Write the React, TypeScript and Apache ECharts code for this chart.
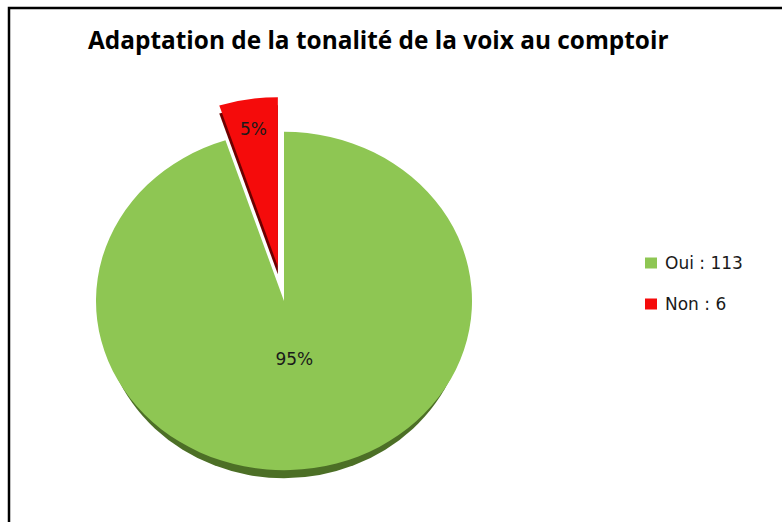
import React, { useEffect, useRef } from "react";
import * as echarts from "echarts";

const title = "Adaptation de la tonalité de la voix au comptoir";
const categories = ["Oui", "Non"];
const counts = [113, 6];

const sliceColors = ["#8EC653", "#F50B0B"];
const sideColors = ["#4C6F26", "#6E0000"];

export default function App() {
  const ref = useRef<HTMLDivElement>(null);

  useEffect(() => {
    if (!ref.current) return;
    const chart = echarts.init(ref.current, null, { renderer: "svg" });

    const total = counts.reduce((a, b) => a + b, 0);
    const starts: number[] = [];
    let acc = 0;
    counts.forEach((c) => {
      starts.push(acc);
      acc += c;
    });

    const cx = 284;
    const cy = 301;
    const R = 188;
    const sy = 0.9;
    const depth = 8;
    const explode = [0, 39];
    const labelFrac = [0.35, 0.82];

    const series = categories.map((name, i) => ({
      type: "custom",
      name,
      coordinateSystem: "none",
      data: [counts[i]],
      itemStyle: { color: sliceColors[i] },
      renderItem: (params: any, api: any) => {
        const v = api.value(0);
        const a0 = -Math.PI / 2 + (2 * Math.PI * starts[i]) / total;
        const a1 = a0 + (2 * Math.PI * v) / total;
        const mid = (a0 + a1) / 2;
        const ox = explode[i] * Math.cos(mid);
        const oy = explode[i] * Math.sin(mid) * sy;
        const big = a1 - a0 > Math.PI;
        const lr = R * labelFrac[i];
        const lx = cx + ox + lr * Math.cos(mid);
        const ly = cy + oy + lr * Math.sin(mid) * sy;
        const side = big
          ? {
              type: "group",
              x: cx + ox,
              y: cy + oy + depth,
              scaleX: 0.97,
              scaleY: sy,
              children: [
                {
                  type: "sector",
                  shape: { cx: 0, cy: 0, r0: 0, r: R, startAngle: 0, endAngle: Math.PI, clockwise: true },
                  style: { fill: sideColors[i] },
                },
              ],
            }
          : {
              type: "group",
              x: cx + ox,
              y: cy + oy + depth,
              scaleY: sy,
              children: [
                {
                  type: "sector",
                  shape: { cx: 0, cy: 0, r0: 0, r: R, startAngle: a0, endAngle: a1, clockwise: true },
                  style: { fill: sideColors[i] },
                },
              ],
            };
        return {
          type: "group",
          children: [
            side,
            {
              type: "group",
              x: cx + ox,
              y: cy + oy,
              scaleY: sy,
              children: [
                {
                  type: "sector",
                  shape: { cx: 0, cy: 0, r0: 0, r: R, startAngle: a0, endAngle: a1, clockwise: true },
                  style: { fill: sliceColors[i] },
                },
              ],
            },
            {
              type: "text",
              x: lx,
              y: ly,
              style: {
                text: Math.round((v / total) * 100) + "%",
                fill: "#1a1a1a",
                font: "17px 'DejaVu Sans'",
                align: "center",
                verticalAlign: "middle",
              },
            },
          ],
        };
      },
    }));

    chart.setOption({
      animation: false,
      backgroundColor: "#ffffff",
      title: {
        text: title,
        left: 88,
        top: 27,
        padding: 0,
        textStyle: { fontFamily: "Open Sans", fontWeight: "bold", fontSize: 24.4, color: "#000" },
      },
      legend: {
        orient: "vertical",
        left: 645,
        top: 253,
        padding: 0,
        icon: "rect",
        itemWidth: 12,
        itemHeight: 11,
        itemGap: 21,
        data: categories,
        formatter: (n: string) => `${n} : ${counts[categories.indexOf(n)]}`,
        textStyle: {
          fontFamily: "DejaVu Sans",
          fontSize: 17,
          color: "#1a1a1a",
          lineHeight: 20,
          padding: [0, 0, 0, 3],
        },
      },
      graphic: [
        {
          type: "polyline",
          shape: { points: [[9, 540], [9, 8], [800, 8]] },
          style: { stroke: "#000", lineWidth: 2.5, fill: "none" },
          silent: true,
        },
      ],
      series,
    });

    return () => chart.dispose();
  }, []);

  return (
    <div
      ref={ref}
      style={{ position: "absolute", left: 0, top: 0, width: 782, height: 522, background: "#fff" }}
    />
  );
}
